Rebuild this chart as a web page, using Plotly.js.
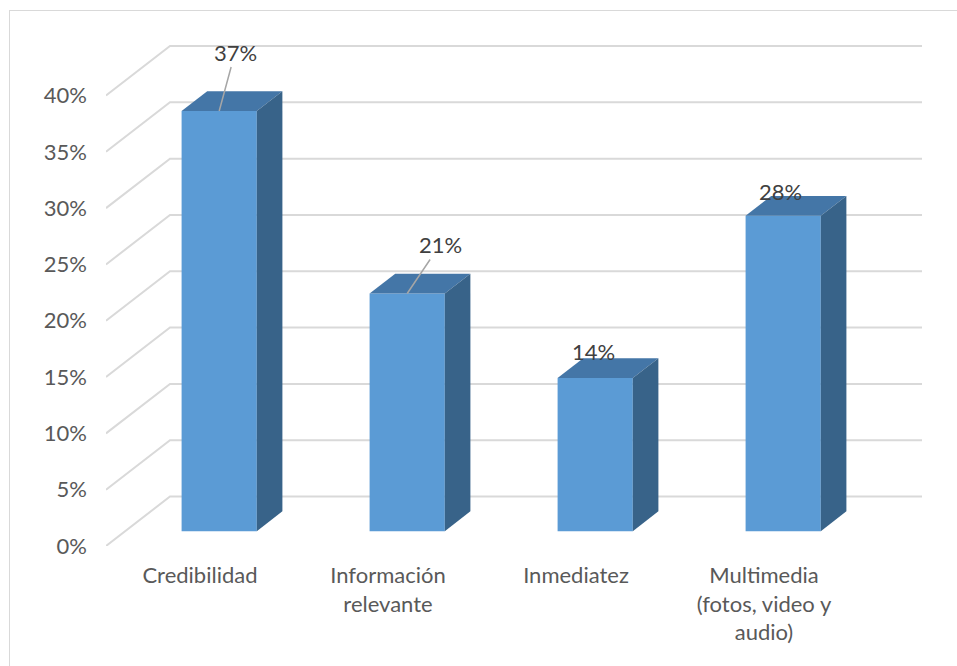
<!DOCTYPE html>
<html>
<head>
<meta charset="utf-8">
<script src="https://cdn.plot.ly/plotly-3.0.1.min.js"></script>
<style>
  html, body { margin: 0; padding: 0; background: #ffffff; }
  #frame { position: absolute; left: 9px; top: 10px; width: 980px; height: 700px;
           border: 1.5px solid #d9d9d9; pointer-events: none; }
  #chart { position: absolute; left: 0; top: 0; width: 957px; height: 666px; }
</style>
</head>
<body>
<div id="frame"></div>
<div id="chart"></div>
<script>
// ---- data ----
const categories = ['Credibilidad', 'Información<br>relevante', 'Inmediatez', 'Multimedia<br>(fotos, video y<br>audio)'];
const values = [37.3, 21.1, 13.6, 28.0];           // percent
const yTicks = [0, 5, 10, 15, 20, 25, 30, 35, 40];
const yTickText = yTicks.map(v => v + '%');
const valueLabels = values.map(v => Math.round(v) + '%');

// ---- pseudo-3D geometry (in data units) ----
const DX = 64 / 188;        // depth shift along x (category units)
const DY = 49.5 / 11.2625;  // depth shift along y (percent units)
const Z0 = 0.30;            // bar front depth fraction
const ZD = 0.40;            // bar depth fraction
const W = 0.40;             // bar width (category units)

const xs = categories.map((c, i) => i + Z0 * DX);
const base = Z0 * DY;

const font = 'Lato, "Open Sans", sans-serif';

// front faces
const traces = [{
  type: 'bar',
  x: xs,
  y: values,
  base: values.map(() => base),
  width: W,
  marker: { color: '#5b9bd5', line: { width: 0 } },
  hoverinfo: 'skip',
  showlegend: false
}];

// top + side faces
values.forEach((v, i) => {
  const l = xs[i] - W / 2, r = xs[i] + W / 2;
  const t = base + v, ddx = ZD * DX, ddy = ZD * DY;
  traces.push({
    type: 'scatter', mode: 'lines', fill: 'toself', fillcolor: '#4476a7',
    line: { width: 0, color: '#4476a7' },
    x: [l, r, r + ddx, l + ddx, l], y: [t, t, t + ddy, t + ddy, t],
    hoverinfo: 'skip', showlegend: false
  });
  traces.push({
    type: 'scatter', mode: 'lines', fill: 'toself', fillcolor: '#386389',
    line: { width: 0, color: '#386389' },
    x: [r, r + ddx, r + ddx, r, r], y: [base, base + ddy, t + ddy, t, base],
    hoverinfo: 'skip', showlegend: false
  });
});

// wall gridlines derived from ticks
const nCat = categories.length;
const shapes = yTicks.map(v => ({
  type: 'path', xref: 'x', yref: 'y', layer: 'below',
  path: `M ${-0.5},${v} L ${-0.5 + DX},${v + DY} L ${nCat - 0.5 + DX},${v + DY}`,
  line: { color: '#d9d9d9', width: 2 }
}));

// data labels
const labelOffsets = [
  { arrow: true, ax: 16, ay: -59 },
  { arrow: true, ax: 33, ay: -49 },
  { arrow: false, xs: -2, ys: 26 },
  { arrow: false, xs: -3, ys: 24 }
];
const annotations = values.map((v, i) => {
  const o = labelOffsets[i];
  const a = {
    x: xs[i], y: base + v, xref: 'x', yref: 'y',
    text: valueLabels[i],
    font: { family: font, size: 22, color: '#404040' }
  };
  if (o.arrow) {
    Object.assign(a, { showarrow: true, ax: o.ax, ay: o.ay, arrowhead: 0,
      arrowwidth: 1.5, arrowcolor: '#a6a6a6', standoff: 0 });
  } else {
    Object.assign(a, { showarrow: false, xshift: o.xs, yshift: o.ys });
  }
  return a;
});

const layout = {
  width: 957, height: 666,
  margin: { l: 106, r: 35, t: 10, b: 120 },
  paper_bgcolor: 'rgba(0,0,0,0)',
  plot_bgcolor: 'rgba(0,0,0,0)',
  showlegend: false,
  xaxis: {
    range: [-0.5, -0.5 + 816 / 188],
    tickvals: categories.map((c, i) => i),
    ticktext: categories,
    showgrid: false, zeroline: false, showline: false, ticks: '',
    ticklabelstandoff: 14,
    tickfont: { family: font, size: 22, color: '#595959' },
    fixedrange: true
  },
  yaxis: {
    range: [0, 536 / 11.2625],
    tickvals: yTicks,
    ticktext: yTickText,
    showgrid: false, zeroline: false, showline: false, ticks: '',
    ticklabelstandoff: 18,
    tickfont: { family: font, size: 22, color: '#595959' },
    fixedrange: true
  },
  shapes: shapes,
  annotations: annotations
};

Plotly.newPlot('chart', traces, layout, { displayModeBar: false, staticPlot: true });
</script>
</body>
</html>
